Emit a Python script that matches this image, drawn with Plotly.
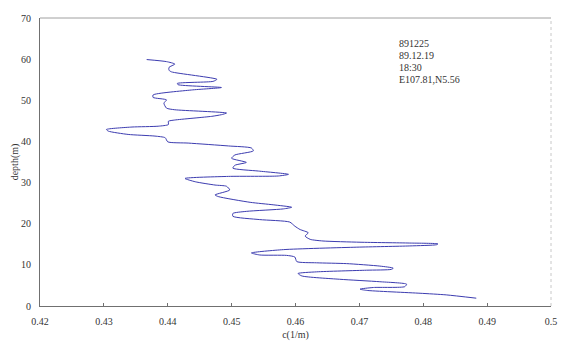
import plotly.graph_objects as go

# Beam attenuation profile, station 891225
depth_m = [59.9, 59.4, 58.8, 58.0, 57.3, 56.9, 55.1, 54.6, 54.1, 53.8, 53.1, 52.5,
           51.3, 50.7, 50.1, 49.3, 48.1, 47.7, 46.9, 46.5, 46.1, 45.2, 44.9, 44.1,
           43.7, 43.5, 42.9, 42.5, 41.7, 41.3, 40.9, 39.9, 39.6, 38.9, 38.4, 37.7,
           36.7, 35.9, 34.9, 34.2, 33.5, 32.8, 32.0, 31.6, 31.5, 31.0, 30.2, 29.4,
           29.1, 28.2, 27.0, 26.6, 25.2, 24.6, 24.0, 23.6, 23.0, 22.5, 21.8, 21.0,
           20.4, 19.4, 18.6, 17.8, 17.0, 16.2, 15.8, 15.5, 15.3, 15.1, 14.9, 14.6,
           14.3, 13.7, 12.9, 12.4, 12.3, 11.9, 10.8, 10.5, 10.3, 9.7, 9.2, 8.9,
           8.7, 8.3, 7.9, 7.3, 6.5, 5.9, 5.3, 4.7, 4.5, 4.1, 3.8, 3.1, 2.7, 1.9]
c_vals = [0.4367, 0.4398, 0.4411, 0.4402, 0.4402, 0.4406, 0.4477, 0.4471, 0.4415, 0.4416, 0.4484, 0.4437,
          0.4377, 0.4377, 0.4398, 0.4394, 0.4398, 0.4411, 0.4492, 0.4484, 0.4469, 0.4411, 0.4401, 0.4401,
          0.4385, 0.4344, 0.4304, 0.4307, 0.4338, 0.4380, 0.4396, 0.4400, 0.4432, 0.4495, 0.4531, 0.4534,
          0.4505, 0.4500, 0.4523, 0.4505, 0.4502, 0.4542, 0.4589, 0.4573, 0.4495, 0.4427, 0.4443, 0.4474,
          0.4492, 0.4497, 0.4474, 0.4479, 0.4529, 0.4565, 0.4594, 0.4581, 0.4523, 0.4502, 0.4502, 0.4544,
          0.4591, 0.4599, 0.4607, 0.4620, 0.4615, 0.4623, 0.4643, 0.4701, 0.4779, 0.4823, 0.4821, 0.4779,
          0.4696, 0.4581, 0.4531, 0.4544, 0.4586, 0.4599, 0.4602, 0.4633, 0.4680, 0.4732, 0.4753, 0.4750,
          0.4711, 0.4633, 0.4604, 0.4610, 0.4669, 0.4732, 0.4774, 0.4771, 0.4722, 0.4701, 0.4711, 0.4795,
          0.4836, 0.4883]

x_ticks = [0.42, 0.43, 0.44, 0.45, 0.46, 0.47, 0.48, 0.49, 0.5]
x_tick_labels = ["0.42", "0.43", "0.44", "0.45", "0.46", "0.47", "0.48", "0.49", "0.5"]
y_ticks = [0, 10, 20, 30, 40, 50, 60, 70]
station_info = ["891225", "89.12.19", "18:30", "E107.81,N5.56"]

FONT = "Liberation Serif"
TXT = "#333333"

fig = go.Figure()
fig.add_trace(go.Scatter(
    x=c_vals, y=depth_m, mode="lines",
    line=dict(color="#3c3cb0", width=1, shape="spline", smoothing=0.6),
    showlegend=False, hoverinfo="skip",
))

fig.update_layout(
    width=570, height=350,
    margin=dict(l=40, r=19, t=15, b=42),
    paper_bgcolor="white", plot_bgcolor="white",
    font=dict(family=FONT, size=10, color=TXT),
    xaxis=dict(
        range=[0.42, 0.5], tickvals=x_ticks, ticktext=x_tick_labels,
        showgrid=False, zeroline=False,
        showline=True, linecolor="#707070", linewidth=1,
        ticks="inside", ticklen=3, tickcolor="#707070",
        ticklabelstandoff=6,
        title=dict(text="c(1/m)", standoff=4, font=dict(size=10)),
    ),
    yaxis=dict(
        range=[0, 70], tickvals=y_ticks,
        showgrid=False, zeroline=False,
        showline=True, linecolor="#707070", linewidth=1,
        ticks="", ticklabelstandoff=6,
        title=dict(text="depth(m)", standoff=0, font=dict(size=10)),
    ),
    shapes=[
        dict(type="line", xref="paper", yref="paper", x0=0, x1=1, y0=1, y1=1,
             line=dict(color="#a0a0a0", width=1)),
        dict(type="line", xref="paper", yref="paper", x0=1, x1=1, y0=0, y1=1,
             line=dict(color="#c8c8c8", width=1, dash="dot")),
    ],
)

for i, line in enumerate(station_info):
    fig.add_annotation(
        xref="paper", yref="paper", x=0.699, y=0.911 - i * 12 / 293,
        text=line, showarrow=False, xanchor="left", yanchor="middle",
        font=dict(family=FONT, size=10, color=TXT),
    )

fig.write_html("out.html")
